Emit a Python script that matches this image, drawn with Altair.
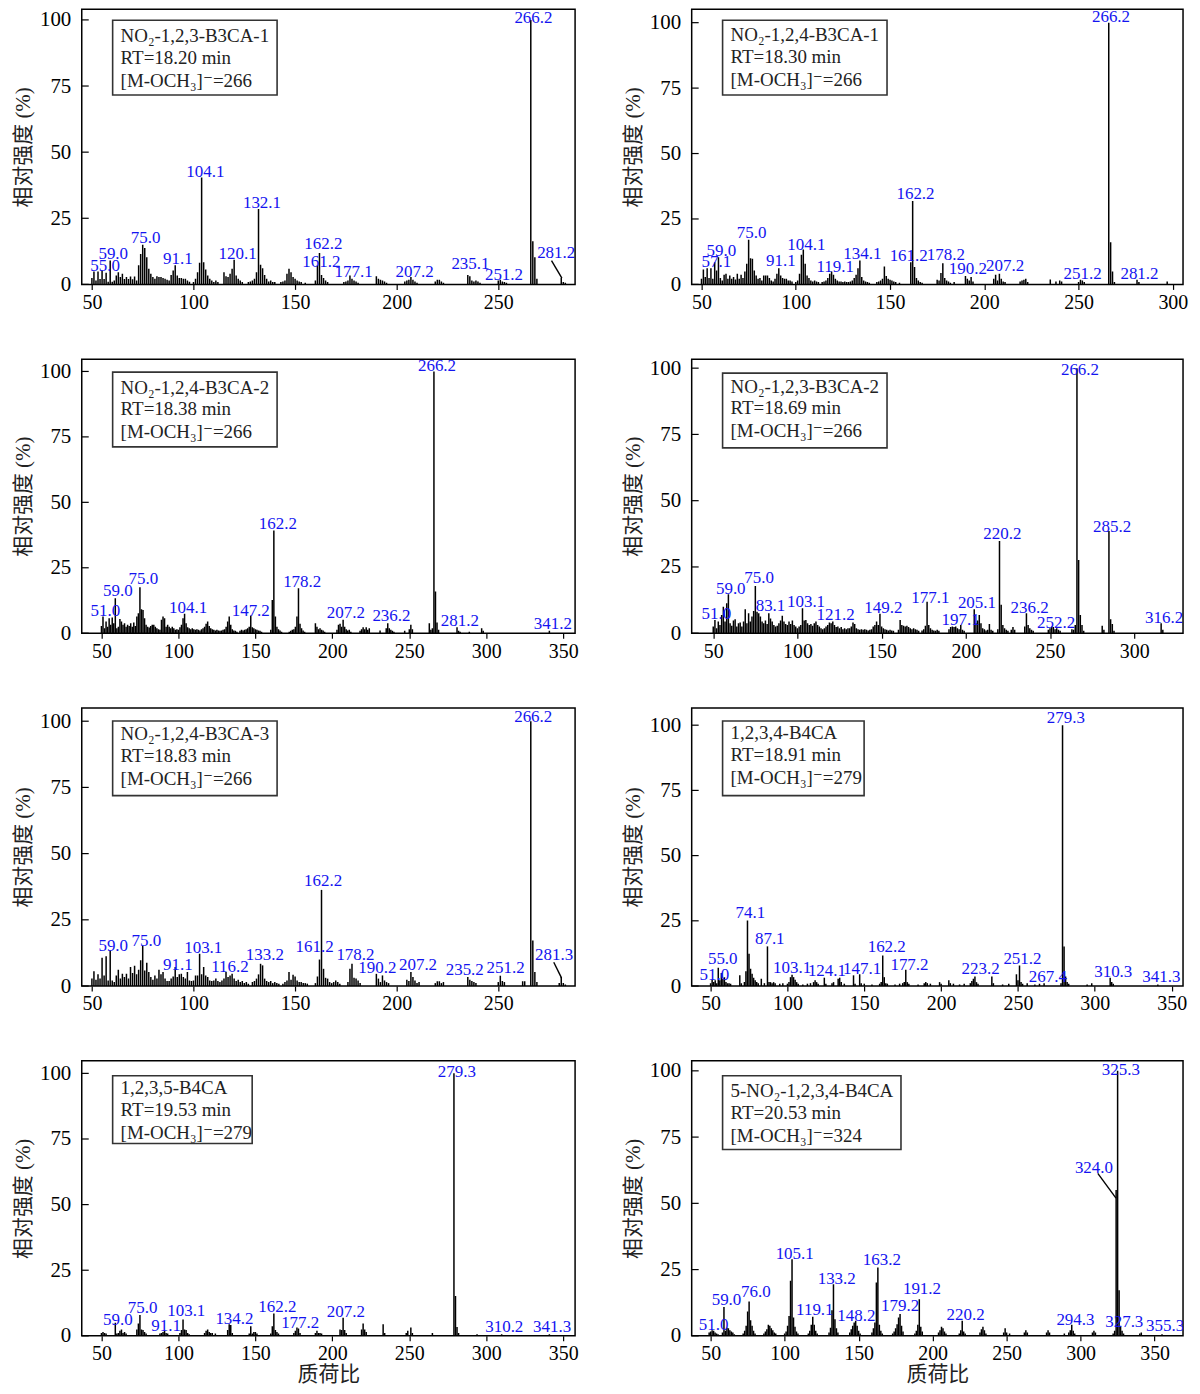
import altair as alt
import pandas as pd

FONT = "Liberation Serif, DejaVu Serif, Noto Sans CJK SC"
BLUE = "#1414f0"

# ---------------- data: (m/z, relative intensity %) ----------------
P1_PEAKS = [(50,2.4),(51,4.9),(52,1.5),(53,4.9),(54,2),(55,5.3),(56,2),(57,4.4),(58,1),(59,9),(60,1),(61,1.5),(62,3.4),(63,4.6),(64,2.8),(65,4),(66,2),(67,2.8),(68,2),(69,3),(70,1.9),(71,3),(72,1.5),(73,7.2),(74,11.5),(75,15),(76,13.8),(77,10.3),(78,5.9),(79,4),(80,2.8),(81,2.1),(82,3.1),(83,2.8),(84,2.8),(85,2.4),(86,2.1),(87,1.8),(88,1.5),(89,3.6),(90,5.3),(91,7.2),(92,3.4),(93,2.4),(94,2.4),(95,2.1),(96,2.1),(97,1.5),(98,1),(100,0.9),(101,2.1),(102,4.6),(103,8.2),(104,40.4),(105,8.4),(106,5.6),(107,3.4),(108,2.1),(109,1.5),(110,0.9),(111,1.5),(112,0.9),(115,4.6),(116,3.1),(117,2.8),(118,4),(119,5.9),(120,9.3),(121,3.4),(122,2.1),(123,1.5),(124,0.9),(127,0.9),(128,1.1),(129,1.5),(130,2.1),(131,4.6),(132,28.5),(133,7.4),(134,6.1),(135,3.6),(136,2.1),(137,1.1),(138,1.5),(139,0.9),(140,0.9),(143,0.9),(144,1.1),(145,1.5),(146,4),(147,5.9),(148,4.6),(149,2.8),(150,2.1),(151,1.5),(152,1.1),(153,0.9),(155,0.6),(160,1.5),(161,7.2),(162,11.9),(163,3.6),(164,2.4),(165,1.5),(166,0.9),(174,0.9),(175,1.1),(176,1.5),(177,3.4),(178,2.1),(179,1.5),(180,1.1),(181,0.6),(190,3.1),(191,2.1),(192,1.8),(193,1.5),(194,1.1),(195,0.6),(204,1.1),(205,1.5),(206,1.8),(207,2.8),(208,1.8),(209,1.1),(210,0.6),(219,1.1),(220,1.8),(221,1.8),(222,1.1),(223,0.6),(235,3.6),(236,3.1),(237,1.5),(238,1.1),(239,1.5),(240,1.1),(241,0.6),(250,1.5),(251,1.8),(252,1.1),(253,0.9),(254,0.6),(266,100),(267,16.3),(268,10.3),(269,2.1),(281,2.4),(282,0.9),(283,0.6)]
P1_LABELS = [("55.0",56.5,4.9),("59.0",60.5,9.7),("75.0",76.4,15.6),("91.1",92.3,7.8),("104.1",105.8,40.7),("120.1",121.7,9.7),("132.1",133.7,28.7),("162.2",163.9,13.2),("161.2",162.9,6.5),("177.1",178.8,2.8),("207.2",208.8,2.8),("235.1",236.3,5.9),("251.2",252.8,1.5),("266.2",267.3,99),("281.2",278.5,10)]
P1_INFO = ["NO₂-1,2,3-B3CA-1", "RT=18.20 min", "[M-OCH₃]⁻=266"]

P2_PEAKS = [(50,2.2),(51,5.7),(52,2.8),(53,6.2),(54,2.4),(55,6.2),(56,2.2),(57,8.5),(58,5.3),(59,10.4),(60,2.4),(61,1.5),(62,3.7),(63,4.1),(64,2.2),(65,3.4),(66,2.2),(67,2.8),(68,1.9),(69,4.1),(70,2.2),(71,3.7),(72,2.4),(73,4.9),(74,7.9),(75,17.1),(76,10),(77,9.8),(78,5.3),(79,3.4),(80,2.2),(81,2.4),(82,1.5),(83,3.4),(84,3.4),(85,3.4),(86,2.4),(87,1.5),(88,1.1),(89,2.2),(90,4.1),(91,6.2),(92,3.4),(93,2.4),(94,2.2),(95,2.2),(96,1.5),(97,1.5),(98,1.1),(100,0.9),(101,1.5),(102,4.1),(103,11.3),(104,13.3),(105,7.9),(106,3.4),(107,2.4),(108,1.5),(109,1.1),(110,1.5),(111,1.1),(112,0.9),(114,0.9),(115,1.1),(116,1.5),(117,2.4),(118,4.1),(119,4.9),(120,3.7),(121,2.2),(122,1.5),(123,1.1),(124,1.1),(125,0.9),(126,1.1),(127,0.9),(128,0.9),(129,1.1),(130,1.5),(131,2.4),(132,3.7),(133,6.2),(134,9.1),(135,2.8),(136,1.5),(137,1.1),(138,0.9),(139,0.6),(143,0.9),(144,1.1),(145,1.5),(146,2.2),(147,6.8),(148,3.2),(149,2.2),(150,1.8),(151,1.5),(152,1.1),(153,0.9),(155,0.6),(161,8.5),(162,31.9),(163,6.6),(164,2.4),(165,1.5),(166,0.9),(167,0.6),(175,1.8),(176,1.5),(177,4.4),(178,8.1),(179,2.4),(180,1.5),(181,1.1),(182,0.6),(184,0.9),(190,3.2),(191,2.2),(192,1.5),(193,2.8),(194,1.1),(205,2.2),(206,3.7),(207,1.5),(208,4.1),(209,2.2),(210,1.1),(211,0.9),(219,1.1),(220,1.5),(221,1.8),(222,2.2),(223,0.9),(235,1.9),(238,1.1),(240,1.5),(241,1.1),(250,0.9),(251,1.8),(252,1.5),(253,0.9),(266,100),(267,16.1),(268,4.9),(269,0.9),(281,1.8),(282,0.9),(297,1.1)]
P2_LABELS = [("57.1",57.9,6.6),("59.0",60.5,11),("75.0",76.6,17.6),("91.1",92.1,7.2),("104.1",105.6,13.3),("119.1",120.9,4.9),("134.1",135.3,9.8),("161.2",159.9,9.1),("162.2",163.5,32.8),("178.2",179.6,9.4),("190.2",191.3,4.1),("207.2",211,5.3),("251.2",252.1,2.2),("266.2",267.2,100.4),("281.2",282.3,2.2)]
P2_INFO = ["NO₂-1,2,4-B3CA-1", "RT=18.30 min", "[M-OCH₃]⁻=266"]

P3_PEAKS = [(50,2.8),(51,6.4),(52,1.9),(53,4.5),(54,2.5),(55,5.7),(56,3.2),(57,6),(58,3.8),(59,13.4),(60,1.9),(61,2.5),(62,5.4),(63,4.5),(64,3.2),(65,3.8),(66,2.5),(67,3.2),(68,2.8),(69,3.8),(70,2.5),(71,4.1),(72,2.8),(73,6.4),(74,7.6),(75,17.6),(76,9.2),(77,8.9),(78,5.7),(79,3.2),(80,2.5),(81,2.2),(82,2.8),(83,3.2),(84,3.2),(85,2.5),(86,1.9),(87,1.5),(88,1.3),(89,5.1),(90,6.4),(91,5.7),(92,2.5),(93,3.2),(94,2.5),(95,1.9),(96,2.5),(97,1.9),(98,1.3),(99,1.5),(100,1.3),(101,2.3),(102,3.2),(103,5.7),(104,7.4),(105,3.8),(106,2.3),(107,1.9),(108,1.5),(109,1.9),(110,1.5),(111,1.3),(112,1.5),(113,1.3),(114,1),(115,1.5),(116,1.9),(117,2.5),(118,3.6),(119,4.5),(120,2.8),(121,1.9),(122,1.5),(123,1.3),(124,1),(125,1.3),(126,1),(127,0.9),(128,1),(129,1.3),(130,1.5),(131,2.5),(132,4.5),(133,6.4),(134,3.2),(135,1.5),(136,1),(137,0.9),(138,0.6),(140,0.9),(141,1.3),(142,1),(143,1.3),(144,1.5),(145,1.9),(146,2.5),(147,6.8),(148,2.3),(149,1.9),(150,1.5),(151,1.3),(152,1),(153,0.9),(154,0.6),(160,1.3),(161,12.7),(162,39.2),(163,6.4),(164,2.5),(165,1.5),(166,1),(167,0.6),(172,0.6),(173,0.9),(174,1.3),(175,1.5),(176,2.5),(177,6.4),(178,17.2),(179,3.6),(180,1.9),(181,1),(182,0.6),(189,3.8),(190,2.5),(191,1.5),(192,1.9),(193,1.3),(194,1),(195,0.6),(203,1.3),(204,3.2),(205,3.6),(206,2.5),(207,5.1),(208,2.5),(209,1.5),(210,1),(211,1.3),(212,0.6),(218,0.9),(219,1.5),(220,2.3),(221,1.5),(222,2.3),(223,1.3),(224,1.9),(231,1),(235,1.9),(236,3.8),(237,1.9),(238,1.3),(239,0.9),(240,0.6),(247,0.9),(250,1.5),(251,3.2),(252,1.5),(263,3.8),(264,1.3),(265,1.9),(266,100),(267,15.9),(268,4.1),(269,1.3),(281,2.3),(282,0.9),(283,0.6),(289,0.6),(297,1.9),(298,0.9),(341,0.9)]
P3_LABELS = [("51.0",52.5,6.4),("59.0",60.6,14.3),("75.0",77.2,18.7),("104.1",106.3,7.9),("147.2",147,6.6),("162.2",164.6,40),("178.2",180.4,17.6),("207.2",208.8,5.7),("236.2",238.4,4.5),("266.2",268,100),("281.2",282.8,2.8),("341.2",343.3,1.5)]
P3_INFO = ["NO₂-1,2,4-B3CA-2", "RT=18.38 min", "[M-OCH₃]⁻=266"]

P4_PEAKS = [(50,2.5),(51,5),(52,1.9),(53,4.4),(54,3.1),(55,6.9),(56,10),(57,4.4),(58,11.3),(59,14.7),(60,3.8),(61,2.8),(62,4.8),(63,5.3),(64,2.5),(65,3.8),(66,4),(67,2.5),(68,4.4),(69,9),(70,3.8),(71,7.5),(72,4.4),(73,6.3),(74,8.4),(75,17.8),(76,8.1),(77,7.5),(78,6.3),(79,4.4),(80,3.8),(81,4.8),(82,3.5),(83,7.5),(84,5.6),(85,4.4),(86,3.1),(87,2.5),(88,2.8),(89,3.8),(90,4.8),(91,6.6),(92,4.4),(93,3.5),(94,3.1),(95,4.4),(96,3.5),(97,4.8),(98,3.1),(99,2.5),(100,1.9),(101,2.5),(102,3.1),(103,9.4),(104,4.8),(105,5),(106,3.8),(107,3.1),(108,3.5),(109,2.8),(110,3.8),(111,4.4),(112,3.1),(113,2.5),(114,1.9),(115,1.5),(116,1.9),(117,2.5),(118,3.1),(119,4),(120,3.8),(121,4.4),(122,3.1),(123,2.3),(124,2.5),(125,1.9),(126,2.3),(127,1.5),(128,1.9),(129,1.5),(130,1.9),(131,1.9),(132,2.5),(133,4),(134,3.5),(135,1.9),(136,1.5),(137,1.3),(138,1.5),(139,1.3),(140,1.5),(141,1.3),(142,1),(143,1.3),(144,1.5),(145,2.5),(146,3.1),(147,4.4),(148,3.1),(149,7.3),(150,2.5),(151,1.9),(152,1.5),(153,1.3),(154,1),(155,1.3),(156,1),(157,0.9),(160,1.3),(161,5),(162,3.1),(163,2.8),(164,2.5),(165,2.8),(166,2.3),(167,1.9),(168,1.5),(169,1.9),(170,1.5),(171,1.3),(172,0.9),(174,1),(175,1.5),(176,2.8),(177,11.9),(178,3.1),(179,1.9),(180,1.3),(181,1),(182,0.9),(183,1.3),(184,0.9),(190,1.5),(191,2.3),(192,2.5),(193,2.3),(194,2.5),(195,1.9),(196,1.5),(197,3.1),(198,1.3),(199,0.9),(205,9),(206,3.8),(207,4.8),(208,6.9),(209,3.8),(210,1.9),(211,1.5),(212,1),(213,1.3),(214,3.5),(215,1.3),(216,0.9),(219,1.5),(220,34.8),(221,10.7),(222,3.1),(223,1.9),(224,1.3),(225,0.9),(227,1.3),(228,2.3),(229,1.3),(235,2.5),(236,7.5),(237,3.1),(238,1.9),(239,1.3),(240,0.9),(249,1.3),(250,1.9),(251,2.5),(252,2.3),(253,1.5),(254,1.9),(255,1.3),(256,0.9),(263,1.5),(264,1.3),(265,3.1),(266,100),(267,27.6),(268,6.9),(269,3.1),(270,0.9),(281,2.8),(282,1.3),(285,38.6),(286,5.3),(287,3.5),(288,0.9),(316,3.8),(317,1.3)]
P4_LABELS = [("51.0",51.8,5.3),("59.0",60.4,14.8),("75.0",77.2,18.8),("83.1",84,8.5),("103.1",105.1,10),("121.2",122.7,4.8),("149.2",151,7.5),("177.1",178.9,11.5),("197.1",196.9,3.1),("205.1",206.6,9.4),("220.2",221.7,35.5),("236.2",237.9,7.5),("252.2",253.6,1.9),("266.2",267.8,97.5),("285.2",286.9,38.2),("316.2",317.8,3.8)]
P4_INFO = ["NO₂-1,2,3-B3CA-2", "RT=18.69 min", "[M-OCH₃]⁻=266"]

P5_PEAKS = [(50,2.8),(51,5.6),(52,2.4),(53,4.4),(54,2.8),(55,10.7),(56,4),(57,11.2),(58,2.1),(59,13.4),(60,2.1),(61,1.5),(62,4),(63,6.1),(64,2.8),(65,4.6),(66,3.4),(67,4.6),(68,2.8),(69,7.2),(70,4.9),(71,7.7),(72,4.4),(73,6.1),(74,9.7),(75,15.1),(76,5.9),(77,8.8),(78,5.3),(79,3.4),(80,2.4),(81,4),(82,2.8),(83,6.1),(84,4.4),(85,5.3),(86,2.8),(87,1.9),(88,1.9),(89,2.8),(90,3.6),(91,7.2),(92,3.4),(93,4.4),(94,4.6),(95,3.4),(96,2.8),(97,5.3),(98,2.1),(99,1.9),(100,2.1),(101,4),(102,4),(103,12.2),(104,4.4),(105,7.2),(106,4),(107,3.4),(108,2.1),(109,1.9),(110,2.1),(111,2.8),(112,1.9),(113,1.5),(114,2.1),(115,2.8),(116,5.3),(117,3.4),(118,4),(119,4.6),(120,2.8),(121,1.9),(122,2.4),(123,1.5),(124,1.9),(125,1.1),(126,1.5),(127,0.9),(129,1.5),(130,1.9),(131,2.8),(132,4.4),(133,8.4),(134,7.8),(135,2.8),(136,1.9),(137,1.5),(138,1.9),(139,1.1),(140,1.5),(141,1.1),(142,0.9),(144,0.9),(145,1.5),(146,2.1),(147,5.3),(148,2.4),(149,4.3),(150,3.6),(151,2.1),(152,1.5),(153,1.5),(154,1.1),(155,1.1),(156,0.9),(160,1.1),(161,3.6),(162,10),(163,36.3),(164,6.5),(165,3.1),(166,2.8),(167,1.5),(168,1.1),(169,1.5),(170,2.1),(171,1.5),(172,0.9),(176,1.5),(177,6.5),(178,8.4),(179,3.1),(180,2.8),(181,2.1),(182,1.1),(190,4.6),(191,2.8),(192,1.5),(193,4),(194,2.1),(195,1.5),(196,1.1),(205,2.4),(206,1.9),(207,5.3),(208,3.4),(209,2.1),(210,1.1),(211,1.5),(219,1.1),(220,1.8),(221,1.8),(222,1.1),(223,1.5),(235,3.4),(236,2.4),(237,1.9),(238,1.5),(239,1.1),(250,1.5),(251,3.9),(252,1.9),(253,1.5),(262,1.8),(263,1.8),(266,100),(267,17.2),(268,5.3),(269,1.5),(280,1.1),(281,3.4),(282,1.1),(283,0.6)]
P5_LABELS = [("59.0",60.5,13.2),("75.0",76.8,15.3),("91.1",92.3,6.1),("103.1",104.8,12.4),("116.2",117.9,5.3),("133.2",135.1,9.9),("161.2",159.6,12.8),("162.2",163.8,37.9),("178.2",179.7,9.9),("190.2",190.5,4.9),("207.2",210.5,6.1),("235.2",233.5,4),("251.2",253.6,4.9),("266.2",267.2,99.7),("281.3",277.5,9.9)]
P5_INFO = ["NO₂-1,2,4-B3CA-3", "RT=18.83 min", "[M-OCH₃]⁻=266"]

P6_PEAKS = [(50,1.1),(51,2.4),(52,1.5),(53,2.2),(54,1.1),(55,7),(56,2.2),(57,5),(58,2.8),(59,3.4),(60,1.5),(61,1.1),(62,1.1),(63,0.9),(69,4.1),(70,1.1),(72,1.5),(73,5.7),(74,25.1),(75,12.4),(76,6.6),(77,4.7),(78,3.2),(79,2.2),(80,1.5),(81,1.1),(83,2.8),(85,1.1),(87,15.2),(88,1.5),(89,1.5),(90,1.1),(91,1.5),(92,1.1),(95,0.9),(97,1.1),(100,0.9),(101,1.5),(102,3.4),(103,4.3),(104,3.4),(105,2.4),(106,1.5),(107,0.9),(110,0.6),(113,0.9),(115,1.1),(117,1.5),(118,2.2),(119,1.5),(120,0.9),(124,3.2),(125,0.9),(129,1.1),(130,1.5),(133,2.8),(134,3.2),(135,1.5),(137,0.9),(143,4.1),(144,0.9),(147,4.5),(148,1.1),(150,0.9),(155,0.6),(160,0.9),(161,1.5),(162,11.7),(163,3.4),(164,1.1),(165,0.9),(170,0.6),(173,0.9),(175,1.1),(176,1.5),(177,6.2),(178,1.5),(179,0.9),(185,0.6),(189,1.1),(190,1.5),(191,1.1),(193,0.9),(199,1.5),(200,0.9),(205,2.2),(206,1.1),(208,0.9),(212,0.6),(215,0.9),(219,1.1),(220,1.9),(221,2.8),(222,3.7),(223,1.5),(224,0.9),(233,3.7),(234,1.1),(240,0.6),(244,0.9),(249,4.5),(250,2.2),(251,7.9),(252,1.5),(253,0.9),(256,1.1),(261,0.6),(264,0.9),(267,1.1),(278,1.1),(279,100),(280,15.2),(281,3.7),(282,1.5),(283,0.9),(295,0.6),(298,1.1),(310,3.2),(311,1.5),(312,0.9),(341,0.6)]
P6_LABELS = [("51.0",52.5,2.2),("55.0",57.9,8.5),("74.1",75.9,26),("87.1",88.5,16.2),("103.1",103,5),("124.1",125.7,3.7),("147.1",148.6,4.7),("162.2",164.6,13),("177.2",179.4,6.2),("223.2",225.7,4.7),("251.2",252.9,8.3),("267.4",269.4,1.5),("279.3",281.2,100.9),("310.3",312,3.4),("341.3",343.3,1.5)]
P6_INFO = ["1,2,3,4-B4CA", "RT=18.91 min", "[M-OCH₃]⁻=279"]

P7_PEAKS = [(50,1.1),(51,1.5),(52,1.1),(53,0.9),(59,5),(60,0.9),(61,1.1),(62,1.9),(63,2.4),(64,1.1),(65,1.5),(66,0.9),(73,2.4),(74,4.7),(75,7.9),(76,2.4),(77,2.2),(78,1.5),(79,0.9),(88,0.9),(89,1.1),(90,1.5),(91,1.8),(92,1.1),(93,0.9),(101,1.1),(102,2.2),(103,6.2),(104,2.4),(105,2.2),(106,1.1),(107,0.6),(117,1.1),(118,1.9),(119,2.4),(120,1.5),(121,1.1),(122,1.1),(124,0.9),(132,2.2),(133,4.4),(134,4.1),(135,1.1),(146,0.9),(147,3.7),(148,0.9),(149,1.5),(150,1.5),(151,0.9),(160,0.9),(161,3.7),(162,8.5),(163,2.2),(164,1.5),(165,0.9),(175,1.1),(176,1.9),(177,3.2),(178,2.8),(179,1.1),(189,1.1),(190,1.9),(191,1.1),(192,1.1),(193,0.9),(205,2.4),(206,2.2),(207,6.9),(208,2.2),(209,1.1),(219,2.4),(220,4.7),(221,2.4),(222,1.5),(233,4.4),(234,1.1),(248,1.1),(249,1.9),(251,3.2),(252,1.1),(265,1.1),(279,100),(280,15.2),(281,3.4),(282,1.1),(294,0.6),(310,0.6),(341,0.6)]
P7_LABELS = [("59.0",60.6,4.1),("75.0",76.7,8.8),("91.1",92,1.8),("103.1",105.1,7.5),("134.2",136.4,4.4),("162.2",164.3,9.1),("177.2",179.1,2.8),("207.2",208.8,7.2),("279.3",280.9,98.5),("310.2",311.7,1.5),("341.3",342.8,1.5)]
P7_INFO = ["1,2,3,5-B4CA", "RT=19.53 min", "[M-OCH₃]⁻=279"]

P8_PEAKS = [(49,1.3),(50,1.6),(51,2.1),(52,1.9),(53,1.3),(54,0.9),(55,0.6),(58,1.3),(59,10.9),(60,1.9),(61,3.1),(62,2.9),(63,2.1),(64,1.6),(65,1.3),(66,0.6),(72,0.9),(73,1.9),(74,3.8),(75,9.2),(76,13),(77,5.9),(78,3.8),(79,1.9),(80,0.9),(86,0.9),(87,1.6),(88,2.5),(89,4.2),(90,3.8),(91,2.9),(92,2.1),(93,1.3),(94,0.9),(100,0.9),(101,1.6),(102,3.8),(103,7.5),(104,20.8),(105,28.9),(106,6.9),(107,3.4),(108,1.6),(109,0.9),(116,0.9),(117,1.9),(118,4.2),(119,7.2),(120,4.2),(121,1.9),(122,0.9),(130,1.3),(131,3.1),(132,9.7),(133,19.5),(134,6.3),(135,2.9),(136,1.3),(144,1.3),(145,2.5),(146,3.8),(147,5),(148,5.7),(149,3.8),(150,1.9),(151,0.9),(159,1.3),(160,2.9),(161,5),(162,20.1),(163,25.8),(164,4.2),(165,1.9),(166,0.9),(173,0.9),(174,1.6),(175,2.9),(176,4.4),(177,6.9),(178,8.2),(179,3.8),(180,1.6),(188,0.9),(189,1.9),(190,4.2),(191,13.8),(192,3.4),(193,1.6),(204,1.3),(205,2.1),(206,3.4),(207,2.9),(208,1.6),(209,0.9),(218,0.9),(219,2.1),(220,5.7),(221,1.6),(222,0.9),(232,1.3),(233,2.5),(234,3.4),(235,2.1),(236,0.9),(248,1.3),(249,2.9),(250,1.3),(252,0.9),(262,1.3),(263,2.1),(264,1.3),(277,1.3),(278,2.1),(279,1.3),(289,0.9),(292,1.3),(293,2.1),(294,4.2),(295,1.9),(296,0.9),(308,1.3),(309,1.9),(310,1.3),(322,0.9),(323,1.9),(324,55),(325,100),(326,17.2),(327,3.4),(328,1.9),(329,0.9),(340,0.9),(341,1.3),(355,0.6)]
P8_LABELS = [("51.0",52,2.1),("59.0",60.7,11.7),("76.0",80.5,14.5),("105.1",106.8,28.9),("119.1",120.4,7.9),("133.2",135.2,19.7),("148.2",148.5,5.7),("163.2",165.7,26.7),("179.2",178,9.2),("191.2",192.8,15.7),("220.2",222.3,5.9),("294.3",296.5,4.2),("324.0",309,61.6),("325.3",327.2,98.5),("327.3",329.5,3.4),("355.3",357.1,1.9)]
P8_INFO = ["5-NO₂-1,2,3,4-B4CA", "RT=20.53 min", "[M-OCH₃]⁻=324"]

# leader lines (from label to peak): (mz, int, mz2, int2)
LEADERS = {0: [(276.2, 9.0, 281.3, 2.4)], 4: [(277.3, 9.0, 281.1, 3.1)], 7: [(311.6, 61.3, 323.9, 52.0)]}

X_DOMAINS = [[45, 287.8], [44.8, 305.4], [37.2, 357.7], [37.2, 329], [45, 287.8], [37.7, 357.4], [37.2, 357.7], [37.2, 369.2]]
Y_TOPS = [104, 105.1, 104.7, 103.4, 105, 106.6, 104.8, 103.8]
X_TICKS = [[50, 100, 150, 200, 250], [50, 100, 150, 200, 250, 300], [50, 100, 150, 200, 250, 300, 350],
           [50, 100, 150, 200, 250, 300], [50, 100, 150, 200, 250], [50, 100, 150, 200, 250, 300, 350],
           [50, 100, 150, 200, 250, 300, 350], [50, 100, 150, 200, 250, 300, 350]]
Y_TICKS = [0, 25, 50, 75, 100]

# annotation box geometry (pixels within the plot area)
BOX_W = [165, 165, 165, 165, 165, 142, 140, 179]
BOX_TOP = [11, 11, 13, 14, 13, 13, 15, 15]
BOX_BOT = [86, 86, 88, 89, 88, 88, 83, 89]
TEXT_DY = [0, -1, 2, 1, 0, -1, 1, 4]
ROW_H = [276, 275, 279, 276]

PANELS = [(P1_PEAKS, P1_LABELS, P1_INFO), (P2_PEAKS, P2_LABELS, P2_INFO),
          (P3_PEAKS, P3_LABELS, P3_INFO), (P4_PEAKS, P4_LABELS, P4_INFO),
          (P5_PEAKS, P5_LABELS, P5_INFO), (P6_PEAKS, P6_LABELS, P6_INFO),
          (P7_PEAKS, P7_LABELS, P7_INFO), (P8_PEAKS, P8_LABELS, P8_INFO)]

DUMMY = pd.DataFrame({"d": [0]})


def make_panel(i, peaks, labels, info):
    left = (i % 2 == 0)
    bottom = i >= 6
    width = 495 if left else 493
    height = ROW_H[i // 2]
    df = pd.DataFrame(peaks, columns=["mz", "intensity"])
    df["base"] = 0
    xs = alt.Scale(domain=X_DOMAINS[i], nice=False, zero=False)
    ys = alt.Scale(domain=[0, Y_TOPS[i]], nice=False, zero=False)
    xaxis = alt.Axis(values=X_TICKS[i], title="质荷比" if bottom else None, tickSize=5, tickWidth=1.2,
                     tickColor="black", domain=False, grid=False, labelFont=FONT, labelFontSize=20,
                     labelColor="black", labelPadding=3, labelFlush=False, titleFont=FONT, titleFontSize=21,
                     titleFontWeight="normal", titleColor="#222", titlePadding=0)
    yaxis = alt.Axis(values=Y_TICKS, title="相对强度 (%)", ticks=False, domain=False, grid=False,
                     labelFont=FONT, labelFontSize=21, labelColor="black", labelPadding=11,
                     titleFont=FONT, titleFontSize=21, titleFontWeight="normal", titleColor="#222",
                     titlePadding=6)
    x = alt.X("mz:Q", scale=xs, axis=xaxis)
    y = alt.Y("intensity:Q", scale=ys, axis=yaxis)

    bars = alt.Chart(df).mark_rule(color="black", strokeWidth=1.5, clip=True).encode(
        x=x, y=y, y2="base:Q")
    ticks = alt.Chart(pd.DataFrame({"intensity": Y_TICKS})).mark_rule(color="black", strokeWidth=1.2).encode(
        y=y, x=alt.value(0), x2=alt.value(7))
    lab_df = pd.DataFrame(labels, columns=["text", "mz", "intensity"])
    texts = alt.Chart(lab_df).mark_text(color=BLUE, font=FONT, fontSize=17, align="center",
                                        baseline="alphabetic", clip=True).encode(x=x, y=y, text="text:N")
    layers = [bars, ticks, texts]
    if i in LEADERS:
        ld = pd.DataFrame(LEADERS[i], columns=["mz", "intensity", "mz2", "intensity2"])
        layers.append(alt.Chart(ld).mark_rule(color="black", strokeWidth=1.4, clip=True).encode(
            x=x, y=y, x2="mz2:Q", y2="intensity2:Q"))
    box = alt.Chart(DUMMY).mark_rect(fill="white", stroke="#333", strokeWidth=1.6).encode(
        x=alt.value(31), x2=alt.value(31 + BOX_W[i]), y=alt.value(BOX_TOP[i]), y2=alt.value(BOX_BOT[i]))
    layers.append(box)
    for k, line in enumerate(info):
        yy = [32.5, 54.5, 77.5][k] + TEXT_DY[i]
        layers.append(alt.Chart(DUMMY).mark_text(font=FONT, fontSize=19, color="#222", align="left",
                                                 baseline="alphabetic").encode(
            x=alt.value(39), y=alt.value(yy), text=alt.value(line)))
    return alt.layer(*layers).properties(width=width, height=height)


panels = [make_panel(i, *p) for i, p in enumerate(PANELS)]

chart = alt.concat(*panels, columns=2, spacing={"row": 75, "column": 117}, bounds="flush").configure_view(
    stroke="black", strokeWidth=1.5).properties(
    padding={"top": -3, "left": 3, "right": 3, "bottom": 0}, background="white")

chart.save("out.html", embed_options={"renderer": "svg", "actions": False})
